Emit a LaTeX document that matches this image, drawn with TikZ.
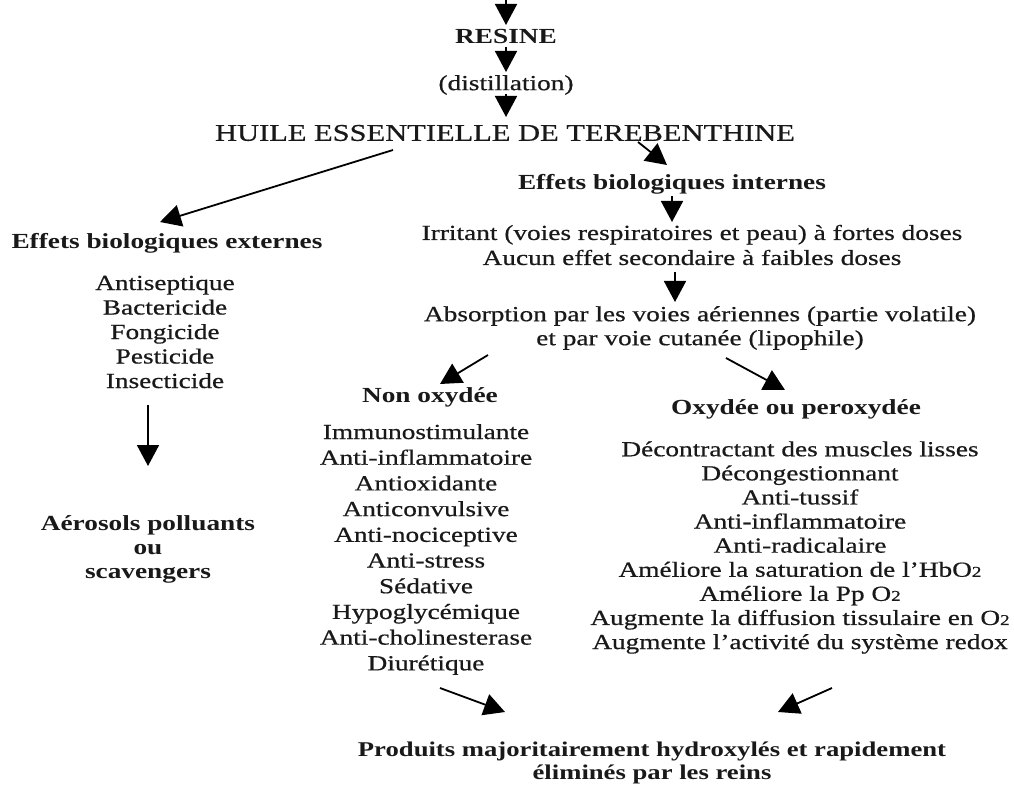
\documentclass[tikz,border=0pt]{standalone}
\usepackage{fontspec}
\setmainfont{Liberation Serif}[FakeStretch=1.27,UprightFeatures={FakeBold=0.6}]
\usetikzlibrary{arrows.meta,calc}
\begin{document}
\begin{tikzpicture}[x=1pt,y=-1pt,
  txt/.style={inner sep=0pt,align=center,text=black!90,font=\fontsize{21.5}{25}\selectfont},
  bld/.style={txt,font=\fontsize{21.5}{24}\selectfont\bfseries},
  arr/.style={draw=black,line width=1.8pt,-{Triangle[length=21pt,width=22pt]}}]
\useasboundingbox (0,0) rectangle (1014,791);
\coordinate (top) at (506,0);
\node[bld] (resine) at (506,36) {RESINE};
\node[txt] (distil) at (506,85) {(distillation)};
\node[txt,font=\fontsize{24}{28}\selectfont] (huile) at (505,133) {HUILE ESSENTIELLE DE TEREBENTHINE};
\node[bld] (internes) at (672,184) {Effets biologiques internes};
\node[bld] (externes) at (167,243) {Effets biologiques externes};
\node[txt,font=\fontsize{21.5}{24.5}\selectfont] (extlist) at (165,332) {Antiseptique\\Bactericide\\Fongicide\\Pesticide\\Insecticide};
\node[bld] (aerosols) at (148,549) {Aérosols polluants\\ou\\scavengers};
\node[txt] (irritant) at (692,245) {Irritant (voies respiratoires et peau) à fortes doses\\Aucun effet secondaire à faibles doses};
\node[txt,font=\fontsize{21.5}{24}\selectfont] (absorption) at (700,328) {Absorption par les voies aériennes (partie volatile)\\et par voie cutanée (lipophile)};
\node[bld] (nonox) at (430,397) {Non oxydée};
\node[bld] (oxy) at (796,409) {Oxydée ou peroxydée};
\node[txt,font=\fontsize{21.5}{25.7}\selectfont] (nonlist) at (426,549.5) {Immunostimulante\\Anti-inflammatoire\\Antioxidante\\Anticonvulsive\\Anti-nociceptive\\Anti-stress\\Sédative\\Hypoglycémique\\Anti-cholinesterase\\Diurétique};
\node[txt,font=\fontsize{21.5}{24.1}\selectfont] (oxylist) at (800,547.5) {Décontractant des muscles lisses\\Décongestionnant\\Anti-tussif\\Anti-inflammatoire\\Anti-radicalaire\\Améliore la saturation de l’HbO{\fontsize{15}{15}\selectfont 2}\\Améliore la Pp O{\fontsize{15}{15}\selectfont 2}\\Augmente la diffusion tissulaire en O{\fontsize{15}{15}\selectfont 2}\\Augmente l’activité du système redox};
\node[bld,font=\fontsize{21}{23}\selectfont\bfseries] (produits) at (652,763) {Produits majoritairement hydroxylés et rapidement\\éliminés par les reins};
\draw[arr] (top) -- ($(resine.center)+(0,-11)$);
\draw[arr] ($(resine.center)+(0,11)$) -- ($(distil.center)+(0,-13)$);
\draw[arr] ($(distil.center)+(0,9)$) -- ($(huile.center)+(1,-16)$);
\draw[arr] ($(huile.center)+(133,9)$) -- ($(internes.center)+(-5,-19)$);
\draw[arr] ($(huile.center)+(-112,17)$) -- ($(externes.center)+(-7,-21)$);
\draw[arr] ($(internes.center)+(0,12)$) -- ($(irritant.center)+(-20,-23)$);
\draw[arr] ($(irritant.center)+(-17,27)$) -- ($(absorption.center)+(-25,-26)$);
\draw[arr] ($(absorption.center)+(-212,27)$) -- ($(nonox.center)+(10,-13)$);
\draw[arr] ($(absorption.center)+(26,30)$) -- ($(oxy.center)+(-11,-19)$);
\draw[arr] ($(extlist.center)+(-17,73)$) -- ($(aerosols.center)+(0,-83)$);
\draw[arr] ($(nonlist.center)+(14,138.5)$) -- ($(produits.center)+(-147,-51)$);
\draw[arr] ($(oxylist.center)+(32,140.5)$) -- ($(produits.center)+(126,-51)$);
\end{tikzpicture}
\end{document}
